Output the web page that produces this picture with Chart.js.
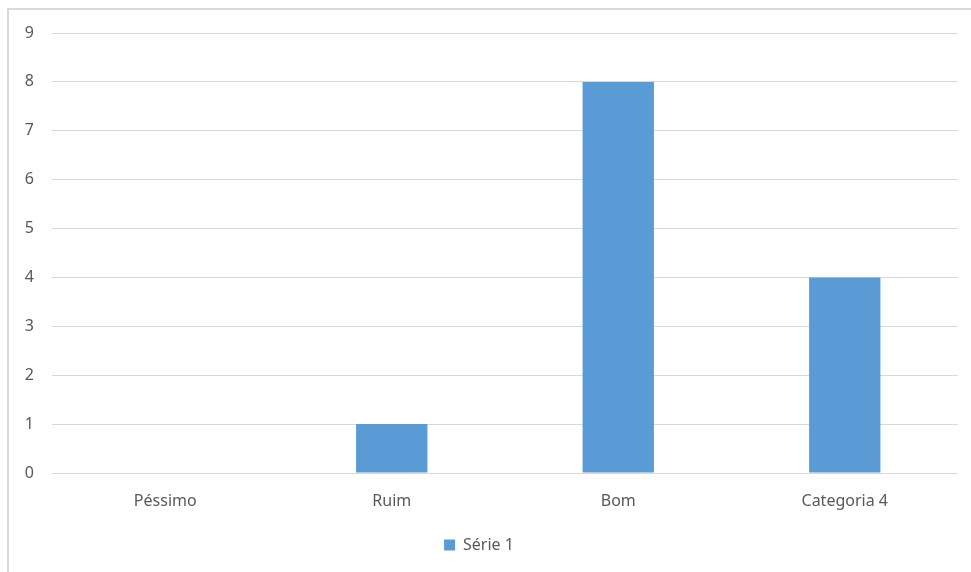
<!DOCTYPE html>
<html>
<head>
<meta charset="utf-8">
<script src="https://cdn.jsdelivr.net/npm/chart.js@4"></script>
<style>
    html, body { margin: 0; padding: 0; background: #fff; }
    #wrap { position: relative; width: 971px; height: 572px; }
    #frame {
        position: absolute; left: 7px; top: 8px; right: 0; bottom: 0;
        border-left: 2px solid #d9d9d9; border-top: 2px solid #d9d9d9;
    }
    canvas { position: absolute; left: 0; top: 0; }
</style>
</head>
<body>
<div id="wrap">
    <div id="frame"></div>
    <canvas id="notasChart" width="971" height="572"></canvas>
</div>
<script>
var categorias = ['Péssimo', 'Ruim', 'Bom', 'Categoria 4'];
var serie1 = [0, 1, 8, 4];
var yTicks = [0, 1, 2, 3, 4, 5, 6, 7, 8, 9];

document.addEventListener("DOMContentLoaded", function() {
    var ctx = document.getElementById('notasChart').getContext('2d');
    var notasChart = new Chart(ctx, {
        type: 'bar',
        data: {
            labels: categorias,
            datasets: [{
                label: 'Série 1',
                data: serie1,
                backgroundColor: '#5b9bd5',
                borderWidth: 0,
                categoryPercentage: 1,
                barPercentage: 0.315
            }]
        },
        options: {
            responsive: false,
            animation: false,
            layout: {
                padding: { top: 33, right: 13, bottom: 9, left: 0 }
            },
            plugins: {
                tooltip: { enabled: false },
                legend: {
                    position: 'bottom',
                    labels: {
                        boxWidth: 11,
                        boxHeight: 11,
                        padding: 10,
                        color: '#595959',
                        font: { family: 'Noto Sans', size: 16 }
                    }
                }
            },
            scales: {
                y: {
                    min: 0,
                    max: 9,
                    afterBuildTicks: function(scale) {
                        scale.ticks = yTicks.map(function(v) { return { value: v }; });
                    },
                    afterFit: function(scale) { scale.width = 52; },
                    border: { display: false },
                    grid: { color: '#d9d9d9', drawTicks: false },
                    ticks: {
                        padding: 18,
                        color: '#595959',
                        font: { family: 'Noto Sans', size: 16 }
                    }
                },
                x: {
                    afterFit: function(scale) { scale.height = 54; },
                    border: { display: false },
                    grid: { display: false },
                    ticks: {
                        padding: 11,
                        color: '#595959',
                        font: { family: 'Noto Sans', size: 16 }
                    }
                }
            }
        }
    });
});
</script>
</body>
</html>
